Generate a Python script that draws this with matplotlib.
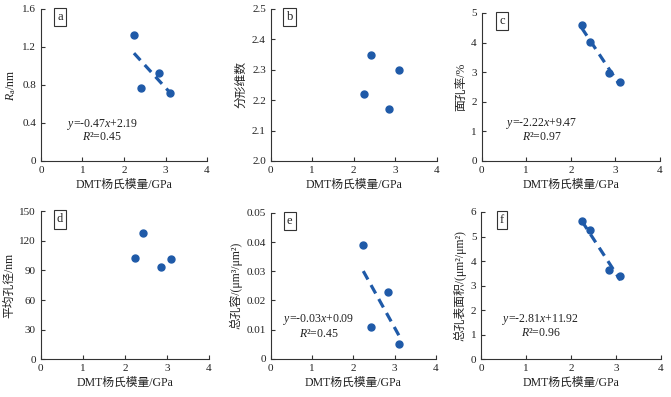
import numpy as np
import matplotlib
matplotlib.use('Agg')
import matplotlib.pyplot as plt

plt.rcParams['font.family'] = ['Liberation Serif', 'Noto Sans CJK SC']
plt.rcParams['mathtext.fontset'] = 'custom'
plt.rcParams['mathtext.rm'] = 'Liberation Serif'
plt.rcParams['mathtext.it'] = 'Liberation Serif:italic'
plt.rcParams['axes.unicode_minus'] = False

# DMT Young's modulus (GPa), same four samples in every panel
modulus = [2.24, 2.42, 2.85, 3.10]

ra = [1.33, 0.77, 0.93, 0.72]
fractal = [2.22, 2.35, 2.17, 2.30]
porosity = [4.60, 4.03, 2.97, 2.68]
pore_diam = [103, 128, 94, 102]
pore_vol = [0.039, 0.011, 0.023, 0.005]
pore_area = [5.63, 5.25, 3.62, 3.41]

ylabels = ['$R_{\\mathrm{a}}$/nm', '分形维数', '面孔率/%', '平均孔径/nm',
           '总孔容/(μm³/μm²)', '总孔表面积/(μm²/μm²)']
letters = ['a', 'b', 'c', 'd', 'e', 'f']
ylims = [(0, 1.6), (2.0, 2.5), (0, 5), (0, 150), (0, 0.05), (0, 6)]
yticks = [np.arange(0, 1.61, 0.4), np.arange(2.0, 2.51, 0.1), np.arange(0, 6, 1),
          np.arange(0, 151, 30), np.arange(0, 0.051, 0.01), np.arange(0, 7, 1)]
ytick_fmt = ['{:.1f}', '{:.1f}', '{:.0f}', '{:.0f}', '{:.2f}', '{:.0f}']
ytick_fmt0 = ['0', '2.0', '0', '0', '0', '0']
eqs = ['$y$=-0.47$x$+2.19', None, '$y$=-2.22$x$+9.47', None,
       '$y$=-0.03$x$+0.09', '$y$=-2.81$x$+11.92']
r2s = ['$R$²=0.45', None, '$R$²=0.97', None, '$R$²=0.45', '$R$²=0.96']
eq_pos = [(0.369, 0.243, 0.158), None, (0.336, 0.25, 0.162), None,
          (0.292, 0.27, 0.172), (0.332, 0.272, 0.179)]
series = [ra, fractal, porosity, pore_diam, pore_vol, pore_area]

# axes rectangles in figure fraction
rects = [[0.0611, 0.5945, 0.2474, 0.3829],
         [0.4034, 0.5945, 0.2474, 0.3829],
         [0.7179, 0.5945, 0.2657, 0.3728],
         [0.0607, 0.0950, 0.2508, 0.3728],
         [0.4034, 0.0965, 0.2464, 0.3670],
         [0.7173, 0.0950, 0.2674, 0.3710]]

blue = '#1f5aa8'
txt = '#222222'

fig = plt.figure(figsize=(6.71, 3.97), dpi=100)
for i in range(6):
    ax = fig.add_axes(rects[i])
    y = series[i]
    ax.plot(modulus, y, 'o', color=blue, ms=5, mec=blue, zorder=3)
    if eqs[i] is not None:
        k, b = np.polyfit(modulus, y, 1)
        xs = np.array([min(modulus), max(modulus)])
        ax.plot(xs, k * xs + b, color=blue, lw=2.3, dashes=(3, 2), zorder=2)
        fx, fy1, fy2 = eq_pos[i]
        ax.text(fx, fy1, eqs[i], transform=ax.transAxes, ha='center', va='center',
                fontsize=8.5, color=txt)
        ax.text(fx, fy2, r2s[i], transform=ax.transAxes, ha='center', va='center',
                fontsize=8.5, color=txt)
    ax.set_xlim(0, 4)
    ax.set_ylim(*ylims[i])
    ax.set_xticks([0, 1, 2, 3, 4])
    ax.set_yticks(yticks[i])
    labs = [ytick_fmt[i].format(v) for v in yticks[i]]
    labs[0] = ytick_fmt0[i]
    ax.set_yticklabels(labs)
    for s in ['top', 'right']:
        ax.spines[s].set_visible(False)
    for s in ['left', 'bottom']:
        ax.spines[s].set_linewidth(0.8)
        ax.spines[s].set_color('#333333')
    ax.tick_params(direction='in', length=3, width=0.8, labelsize=8,
                   colors='#333333', labelcolor=txt)
    ax.set_xlabel('DMT杨氏模量/GPa', fontsize=8.5, color=txt, labelpad=3)
    ax.set_ylabel(ylabels[i], fontsize=8.5, color=txt, labelpad=3)
    ax.text(0.115, 0.945, letters[i], transform=ax.transAxes, ha='center', va='center',
            fontsize=9, color=txt,
            bbox=dict(boxstyle='square,pad=0.25', fc='white', ec='#333333', lw=0.8))

fig.savefig('out.png', dpi=100)
